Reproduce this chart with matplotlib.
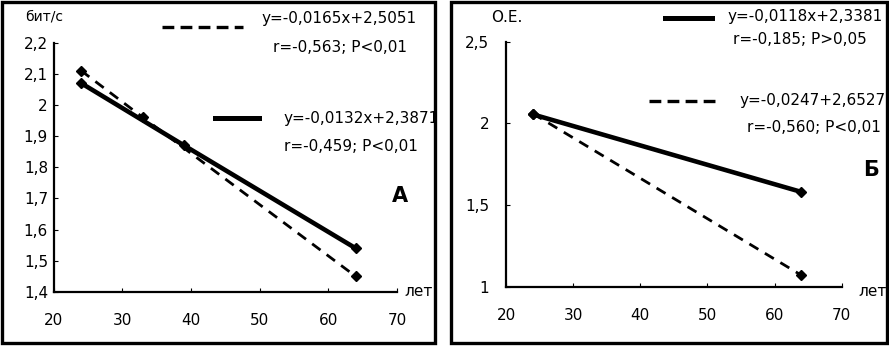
import matplotlib
matplotlib.use("Agg")
import matplotlib.pyplot as plt
from matplotlib.patches import Rectangle

plt.rcParams["font.family"] = ["DejaVu Sans"]
plt.rcParams["lines.scale_dashes"] = False

# Panel A data (бит/с)
a_dash_x = [24, 33, 64]
a_dash_y = [2.11, 1.96, 1.45]
a_solid_x = [24, 39, 64]
a_solid_y = [2.07, 1.87, 1.54]
a_yticks = [1.4, 1.5, 1.6, 1.7, 1.8, 1.9, 2.0, 2.1, 2.2]
a_ylabels = ["1,4", "1,5", "1,6", "1,7", "1,8", "1,9", "2", "2,1", "2,2"]

# Panel B data (О.Е.)
b_solid_x = [24, 64]
b_solid_y = [2.055, 1.58]
b_dash_x = [24, 64]
b_dash_y = [2.06, 1.07]
b_yticks = [1.0, 1.5, 2.0, 2.5]
b_ylabels = ["1", "1,5", "2", "2,5"]

xticks = [20, 30, 40, 50, 60, 70]
xlabels = ["20", "30", "40", "50", "60", "70"]

W, H = 889, 346
fig = plt.figure(figsize=(W / 100, H / 100), dpi=100)

DASH_LINE = (0, (7.5, 5.5))
DASH_KEY = (0, (8.5, 4.5))
FS = 11


def fx(px):
    return px / W


def fy(py):
    return 1 - py / H


def style_axes(ax, ylim, yticks, ylabels, ypad):
    ax.set_xlim(20, 70)
    ax.set_ylim(*ylim)
    ax.set_xticks(xticks)
    ax.set_xticklabels(xlabels)
    ax.set_yticks(yticks)
    ax.set_yticklabels(ylabels)
    for s in ["top", "right"]:
        ax.spines[s].set_visible(False)
    for s in ["left", "bottom"]:
        ax.spines[s].set_linewidth(1.6)
    ax.tick_params(axis="both", direction="in", length=3, width=0.8, labelsize=FS)
    ax.tick_params(axis="x", pad=15)
    ax.tick_params(axis="y", pad=ypad)
    ax.patch.set_alpha(0)


# panel frames
frame_a = Rectangle((fx(1.5), fy(343)), fx(433), 341.5 / H, transform=fig.transFigure,
                    fill=False, lw=2.4, ec="black")
frame_b = Rectangle((fx(450.5), fy(343)), fx(436), 341.5 / H, transform=fig.transFigure,
                    fill=False, lw=2.4, ec="black")
fig.patches.extend([frame_a, frame_b])

# ---- Panel A ----
axa = fig.add_axes([fx(53.5), fy(292), fx(397 - 53.5), (292 - 42.5) / H])
style_axes(axa, (1.4, 2.2), a_yticks, a_ylabels, 4)
axa.plot(a_dash_x, a_dash_y, color="black", lw=2, ls=DASH_LINE,
         marker="D", ms=5.5, clip_on=False)
axa.plot(a_solid_x, a_solid_y, color="black", lw=3.3, marker="D", ms=5.5, clip_on=False)

fig.text(fx(25), fy(16), "бит/с", fontsize=10, va="center")
fig.text(fx(404), fy(291), "лет", fontsize=11, va="center")
fig.text(fx(392), fy(196), "А", fontsize=15, fontweight="bold", va="center")

fig.add_artist(plt.Line2D([fx(162), fx(243)], [fy(27), fy(27)], color="black",
                          lw=2.4, ls=DASH_KEY))
fig.text(fx(262), fy(18), "y=-0,0165x+2,5051", fontsize=FS, va="center")
fig.text(fx(273), fy(48), "r=-0,563; P<0,01", fontsize=FS, va="center")

fig.add_artist(plt.Line2D([fx(215), fx(259)], [fy(118), fy(118)], color="black", lw=3.6))
t = fig.text(fx(283), fy(118), "y=-0,0132x+2,3871", fontsize=FS, va="center")
t.set_clip_path(frame_a)
fig.text(fx(284), fy(146), "r=-0,459; P<0,01", fontsize=FS, va="center")

# ---- Panel B ----
axb = fig.add_axes([fx(506), fy(286.7), fx(841.7 - 506), (286.7 - 41.7) / H])
style_axes(axb, (1.0, 2.5), b_yticks, b_ylabels, 12)
axb.plot(b_dash_x, b_dash_y, color="black", lw=2, ls=DASH_LINE,
         marker="D", ms=5.5, clip_on=False)
axb.plot(b_solid_x, b_solid_y, color="black", lw=3.3, marker="D", ms=5.5, clip_on=False)

fig.text(fx(491), fy(18), "О.Е.", fontsize=11, va="center")
fig.text(fx(858), fy(291), "лет", fontsize=11, va="center")
fig.text(fx(863), fy(170), "Б", fontsize=15, fontweight="bold", va="center")

fig.add_artist(plt.Line2D([fx(665), fx(712)], [fy(18), fy(18)], color="black", lw=3.6))
fig.text(fx(727), fy(16), "y=-0,0118x+2,3381", fontsize=FS, va="center")
fig.text(fx(733), fy(40), "r=-0,185; P>0,05", fontsize=FS, va="center")

fig.add_artist(plt.Line2D([fx(649), fx(717)], [fy(101), fy(101)], color="black",
                          lw=2.4, ls=DASH_KEY))
fig.text(fx(740), fy(101), "y=-0,0247+2,6527", fontsize=FS, va="center")
fig.text(fx(747), fy(128), "r=-0,560; P<0,01", fontsize=FS, va="center")

fig.savefig("out.png", dpi=100)
